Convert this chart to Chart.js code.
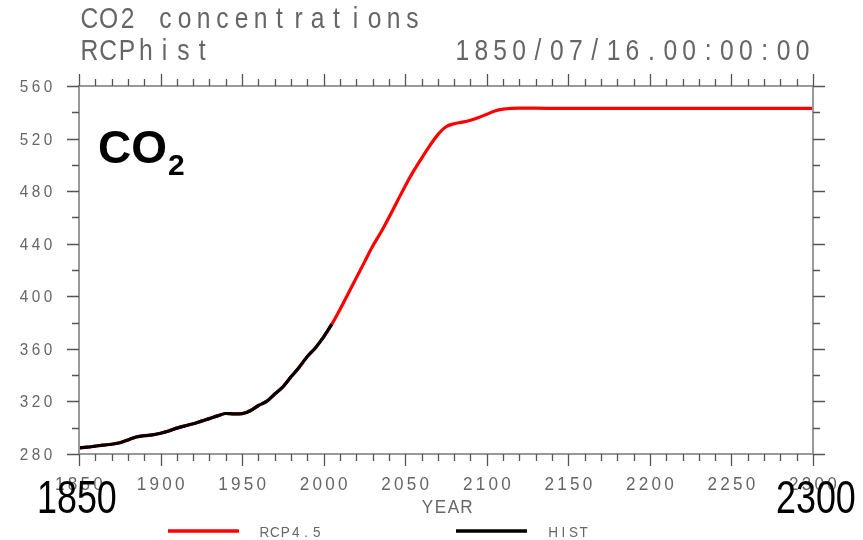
<!DOCTYPE html>
<html lang="en">
<head>
<meta charset="UTF-8">
<title>CO2 concentrations</title>
<script src="https://cdn.jsdelivr.net/npm/chart.js"></script>
<style>
    html, body { margin: 0; padding: 0; background: #fff; }
    #wrap { width: 863px; height: 540px; }
</style>
</head>
<body>
<div id="wrap"><canvas id="co2Chart" width="863" height="540"></canvas></div>
<script>
// historical CO2 (ppm)
const histYears = [1850, 1855, 1860, 1865, 1870, 1875, 1880, 1885, 1890, 1895,
                   1900, 1905, 1910, 1915, 1920, 1925, 1930, 1935, 1940, 1945,
                   1950, 1955, 1960, 1965, 1970, 1975, 1980, 1985, 1990, 1995,
                   2000, 2005];
const histCO2 = [284.7, 285.2, 286.0, 286.8, 287.4, 288.6, 290.7, 292.9, 294.0, 294.5,
                 295.8, 297.5, 299.7, 301.4, 303.0, 305.0, 306.9, 309.0, 310.8, 310.5,
                 310.7, 312.9, 316.9, 320.0, 325.7, 331.1, 338.7, 346.1, 354.2, 360.9,
                 369.1, 378.8];

// RCP4.5 continuation to 2300
const rcpYears = [2010, 2015, 2020, 2025, 2030, 2035, 2040, 2045, 2050, 2055,
                  2060, 2065, 2070, 2075, 2080, 2085, 2090, 2095, 2100, 2105,
                  2110, 2115, 2120, 2130, 2150, 2200, 2250, 2300];
const rcpCO2 = [390.0, 402.0, 414.0, 426.0, 438.0, 448.5, 460.0, 472.0, 484.0, 495.0,
                505.0, 514.5, 523.0, 529.0, 531.3, 532.5, 534.0, 536.0, 538.5, 541.0,
                542.4, 543.0, 543.2, 543.1, 542.9, 542.9, 542.9, 542.9];

const xLabels = [1850, 1900, 1950, 2000, 2050, 2100, 2150, 2200, 2250, 2300];
const yLabels = [280, 320, 360, 400, 440, 480, 520, 560];

const toPoints = (xs, ys) => xs.map((x, i) => ({ x: x, y: ys[i] }));
const histPts = toPoints(histYears, histCO2);
// the RCP file carries the history too, so the red line runs underneath the black one
const rcpPts = histPts.concat(toPoints(rcpYears, rcpCO2));

// fixed-cell text, roughly how NCL lays its characters out
function cellText(ctx, str, x, y, cell, align, sx) {
    const w = cell * str.length;
    const x0 = align === 'right' ? x - w : align === 'center' ? x - w / 2 : x;
    ctx.textAlign = 'center';
    for (let i = 0; i < str.length; i++) {
        ctx.save();
        ctx.translate(x0 + cell * (i + 0.5), y);
        ctx.scale(sx, 1);
        ctx.fillText(str[i], 0, 0);
        ctx.restore();
    }
}

function narrowText(ctx, str, x, y, sx) {
    ctx.save();
    ctx.translate(x, y);
    ctx.scale(sx, 1);
    ctx.textAlign = 'left';
    ctx.fillText(str, 0, 0);
    ctx.restore();
}

const nclFrame = {
    id: 'nclFrame',
    afterDraw(chart) {
        const ctx = chart.ctx;
        const xs = chart.scales.x, ys = chart.scales.y;
        const a = chart.chartArea;

        ctx.save();
        // frame
        ctx.strokeStyle = '#999';
        ctx.lineWidth = 2;
        ctx.strokeRect(a.left, a.top, a.right - a.left, a.bottom - a.top);

        // outward ticks on all four sides
        ctx.strokeStyle = '#555';
        ctx.lineWidth = 1.3;
        ctx.beginPath();
        for (let yr = 1850; yr <= 2300; yr += 10) {
            const px = Math.round(xs.getPixelForValue(yr)) + 0.5;
            const len = yr % 50 === 0 ? 12 : 7;
            ctx.moveTo(px, a.bottom); ctx.lineTo(px, a.bottom + len);
            ctx.moveTo(px, a.top); ctx.lineTo(px, a.top - len);
        }
        for (let v = 280; v <= 560; v += 20) {
            const py = Math.round(ys.getPixelForValue(v)) + 0.5;
            const len = v % 40 === 0 ? 12 : 7;
            ctx.moveTo(a.left, py); ctx.lineTo(a.left - len, py);
            ctx.moveTo(a.right, py); ctx.lineTo(a.right + len, py);
        }
        ctx.stroke();

        // tick labels
        ctx.fillStyle = '#666';
        ctx.textBaseline = 'alphabetic';
        ctx.font = '17px "Liberation Sans"';
        yLabels.forEach(v => {
            cellText(ctx, String(v), 54, ys.getPixelForValue(v) + 6, 12, 'right', 0.9);
        });
        ctx.font = '19px "Liberation Sans"';
        xLabels.forEach(yr => {
            cellText(ctx, String(yr), xs.getPixelForValue(yr), 490, 12.75, 'center', 0.9);
        });

        // titles
        ctx.font = '29px "Liberation Sans"';
        cellText(ctx, 'CO2 concentrations', 80, 28, 19, 'left', 0.85);
        cellText(ctx, 'RCPhist', 80, 60, 18.8, 'left', 0.85);
        cellText(ctx, '1850/07/16.00:00:00', 812, 60, 18.9, 'right', 0.85);

        // axis title
        ctx.font = '19px "Liberation Sans"';
        cellText(ctx, 'YEAR', 447, 513, 13, 'center', 0.9);

        // legend
        ctx.lineWidth = 3.5;
        ctx.lineCap = 'butt';
        ctx.strokeStyle = '#ff0000';
        ctx.beginPath(); ctx.moveTo(168, 531); ctx.lineTo(239, 531); ctx.stroke();
        ctx.strokeStyle = '#000';
        ctx.beginPath(); ctx.moveTo(456, 531); ctx.lineTo(527, 531); ctx.stroke();
        ctx.font = '15px "Liberation Sans"';
        cellText(ctx, 'RCP4.5', 259, 537, 10.5, 'left', 0.9);
        cellText(ctx, 'HIST', 548, 537, 10.2, 'left', 0.9);

        // big labels
        ctx.fillStyle = '#000';
        ctx.font = '46px "Liberation Sans"';
        narrowText(ctx, '1850', 37, 513, 0.78);
        narrowText(ctx, '2300', 776, 513, 0.78);

        ctx.font = 'bold 46px "Liberation Sans"';
        ctx.textAlign = 'left';
        ctx.fillText('CO', 98, 163);
        ctx.font = 'bold 30px "Liberation Sans"';
        ctx.fillText('2', 168, 175);
        ctx.restore();
    }
};

new Chart(document.getElementById('co2Chart').getContext('2d'), {
    type: 'line',
    data: {
        datasets: [{
            label: 'HIST',
            data: histPts,
            borderColor: '#000000',
            borderWidth: 3.2,
            pointRadius: 0,
            cubicInterpolationMode: 'monotone',
            order: 0
        }, {
            label: 'RCP4.5',
            data: rcpPts,
            borderColor: '#ff0000',
            borderWidth: 3.2,
            pointRadius: 0,
            cubicInterpolationMode: 'monotone',
            order: 1
        }]
    },
    options: {
        responsive: false,
        animation: false,
        layout: { padding: { left: 79, right: 50, top: 86, bottom: 86 } },
        scales: {
            x: { type: 'linear', min: 1850, max: 2300, display: false },
            y: { min: 280, max: 560, display: false }
        },
        plugins: {
            legend: { display: false },
            tooltip: { enabled: false }
        }
    },
    plugins: [nclFrame]
});
</script>
</body>
</html>
